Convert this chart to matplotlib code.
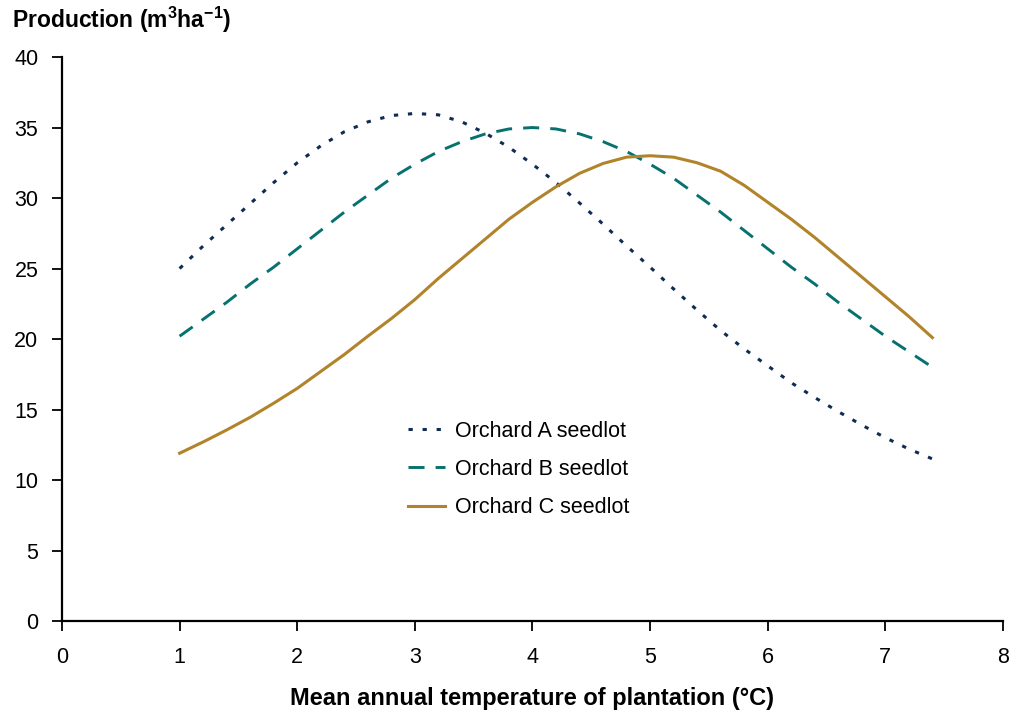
import matplotlib
matplotlib.use("Agg")
import matplotlib.pyplot as plt
import numpy as np

plt.rcParams['font.family'] = ['Liberation Sans', 'DejaVu Sans']
plt.rcParams['mathtext.fontset'] = 'custom'
plt.rcParams['mathtext.rm'] = 'Liberation Sans'
plt.rcParams['mathtext.bf'] = 'Liberation Sans:bold'

# temperature (deg C), readings every 0.2
temp = [1.0, 1.2, 1.4, 1.6, 1.8, 2.0, 2.2, 2.4, 2.6, 2.8, 3.0,
        3.2, 3.4, 3.6, 3.8, 4.0, 4.2, 4.4, 4.6, 4.8, 5.0,
        5.2, 5.4, 5.6, 5.8, 6.0, 6.2, 6.4, 6.6, 6.8, 7.0, 7.2, 7.4]

orchard_a = [25.0, 26.6, 28.1, 29.6, 31.1, 32.5, 33.7, 34.7, 35.4, 35.85, 36.0,
             35.9, 35.4, 34.6, 33.6, 32.4, 31.1, 29.65, 28.15, 26.6, 25.1,
             23.55, 22.05, 20.6, 19.3, 18.1, 16.9, 15.85, 14.85, 13.9, 13.0, 12.2, 11.5]

orchard_b = [20.2, 21.4, 22.6, 23.9, 25.1, 26.4, 27.7, 29.0, 30.2, 31.4, 32.4,
             33.3, 34.0, 34.55, 34.9, 35.0, 34.9, 34.55, 34.0, 33.3, 32.4,
             31.4, 30.2, 29.0, 27.7, 26.4, 25.1, 23.9, 22.6, 21.4, 20.2, 19.1, 18.0]

orchard_c = [11.9, 12.7, 13.55, 14.45, 15.45, 16.5, 17.7, 18.9, 20.2, 21.45, 22.8,
             24.3, 25.7, 27.1, 28.5, 29.7, 30.8, 31.75, 32.45, 32.9, 33.0,
             32.9, 32.5, 31.9, 30.9, 29.7, 28.5, 27.2, 25.8, 24.4, 23.0, 21.6, 20.1]

labels = ["Orchard A seedlot", "Orchard B seedlot", "Orchard C seedlot"]

fig = plt.figure(figsize=(10.13, 7.13), dpi=100)
ax = fig.add_axes([0.0612, 0.129, 0.9289, 0.791])

ax.plot(temp, orchard_a, color="#0f2d52", lw=2.2, ls=(0, (1.4, 3.2)), label=labels[0])
ax.plot(temp, orchard_b, color="#06716f", lw=2.1, ls=(0, (5.5, 3.8)), label=labels[1])
ax.plot(temp, orchard_c, color="#b1832a", lw=2.2, ls="-", label=labels[2])

ax.set_xlim(0, 8)
ax.set_ylim(0, 40)
ax.set_xticks(np.arange(0, 9, 1))
ax.set_yticks(np.arange(0, 45, 5))
ax.spines['top'].set_visible(False)
ax.spines['right'].set_visible(False)
ax.spines['left'].set_linewidth(1.6)
ax.spines['bottom'].set_linewidth(1.6)
ax.tick_params(axis='both', direction='out', length=7, width=1.3, labelsize=15.5, colors='black')
ax.tick_params(axis='y', pad=10)
ax.tick_params(axis='x', pad=12)

ax.set_xlabel("Mean annual temperature of plantation (°C)", fontsize=17, fontweight='bold')
ax.xaxis.set_label_coords(0.5, -0.117)
fig.text(0.012, 0.972, r"Production (m$^{\mathbf{3}}$ha$^{\mathbf{-1}}$)", fontsize=16.5,
         fontweight='bold', ha='left', va='center')

ax.legend(loc='upper left', bbox_to_anchor=(0.3675, 0.355), frameon=False, fontsize=15.5,
          handlelength=1.75, handletextpad=0.42, labelspacing=0.8, borderpad=0, borderaxespad=0)

fig.savefig("out.png", dpi=100)
